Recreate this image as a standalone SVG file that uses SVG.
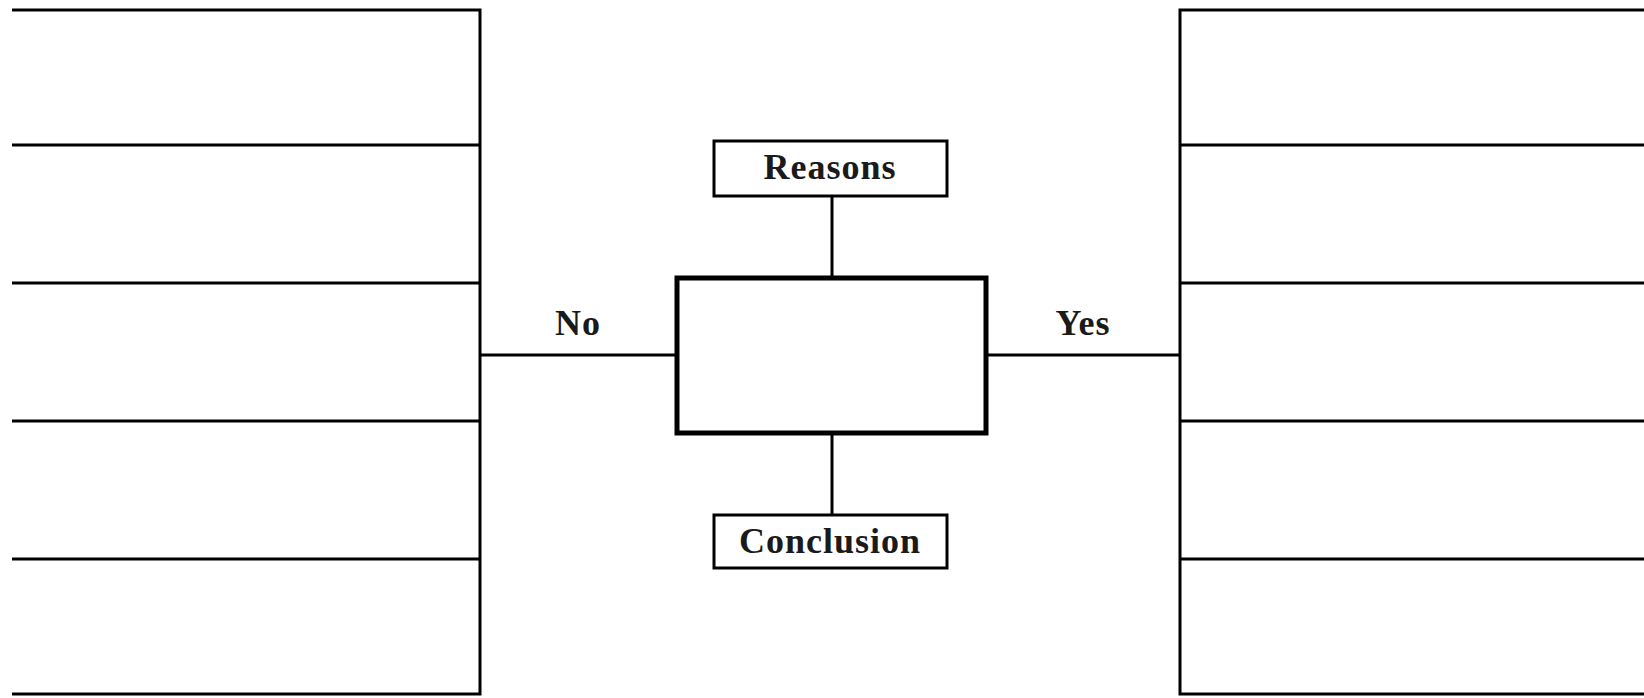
<svg xmlns="http://www.w3.org/2000/svg" width="1644" height="698" viewBox="0 0 1644 698">
<style>
.ln{stroke:#000;stroke-width:3;fill:none}
.box{stroke:#000;stroke-width:3;fill:#fff}
.main{stroke:#000;stroke-width:5;fill:#fff}
.t{font-family:"Liberation Serif","Times New Roman",serif;font-weight:bold;font-size:36px;fill:#1a1a1a;text-anchor:middle;letter-spacing:1px}
</style>
<rect width="1644" height="698" fill="#fff"/>
<g id="left-list">
<path class="ln" d="M12 10H480V694H12M12 145H480M12 283H480M12 421H480M12 559H480"/>
</g>
<g id="right-list">
<path class="ln" d="M1644 10H1180V694H1644M1180 145H1644M1180 283H1644M1180 421H1644M1180 559H1644"/>
</g>
<g id="connectors">
<line class="ln" x1="832" y1="196" x2="832" y2="278"/>
<line class="ln" x1="832" y1="433" x2="832" y2="515"/>
<line class="ln" x1="480" y1="355" x2="677" y2="355"/>
<line class="ln" x1="986" y1="355" x2="1180" y2="355"/>
<text class="t" x="578" y="335">No</text>
<text class="t" x="1083" y="335">Yes</text>
</g>
<g id="reasons">
<rect class="box" x="714" y="141" width="233" height="55"/>
<text class="t" x="830" y="179">Reasons</text>
</g>
<g id="center">
<rect class="main" x="677" y="278" width="309" height="155"/>
</g>
<g id="conclusion">
<rect class="box" x="714" y="515" width="233" height="53"/>
<text class="t" x="830" y="553">Conclusion</text>
</g>
</svg>
